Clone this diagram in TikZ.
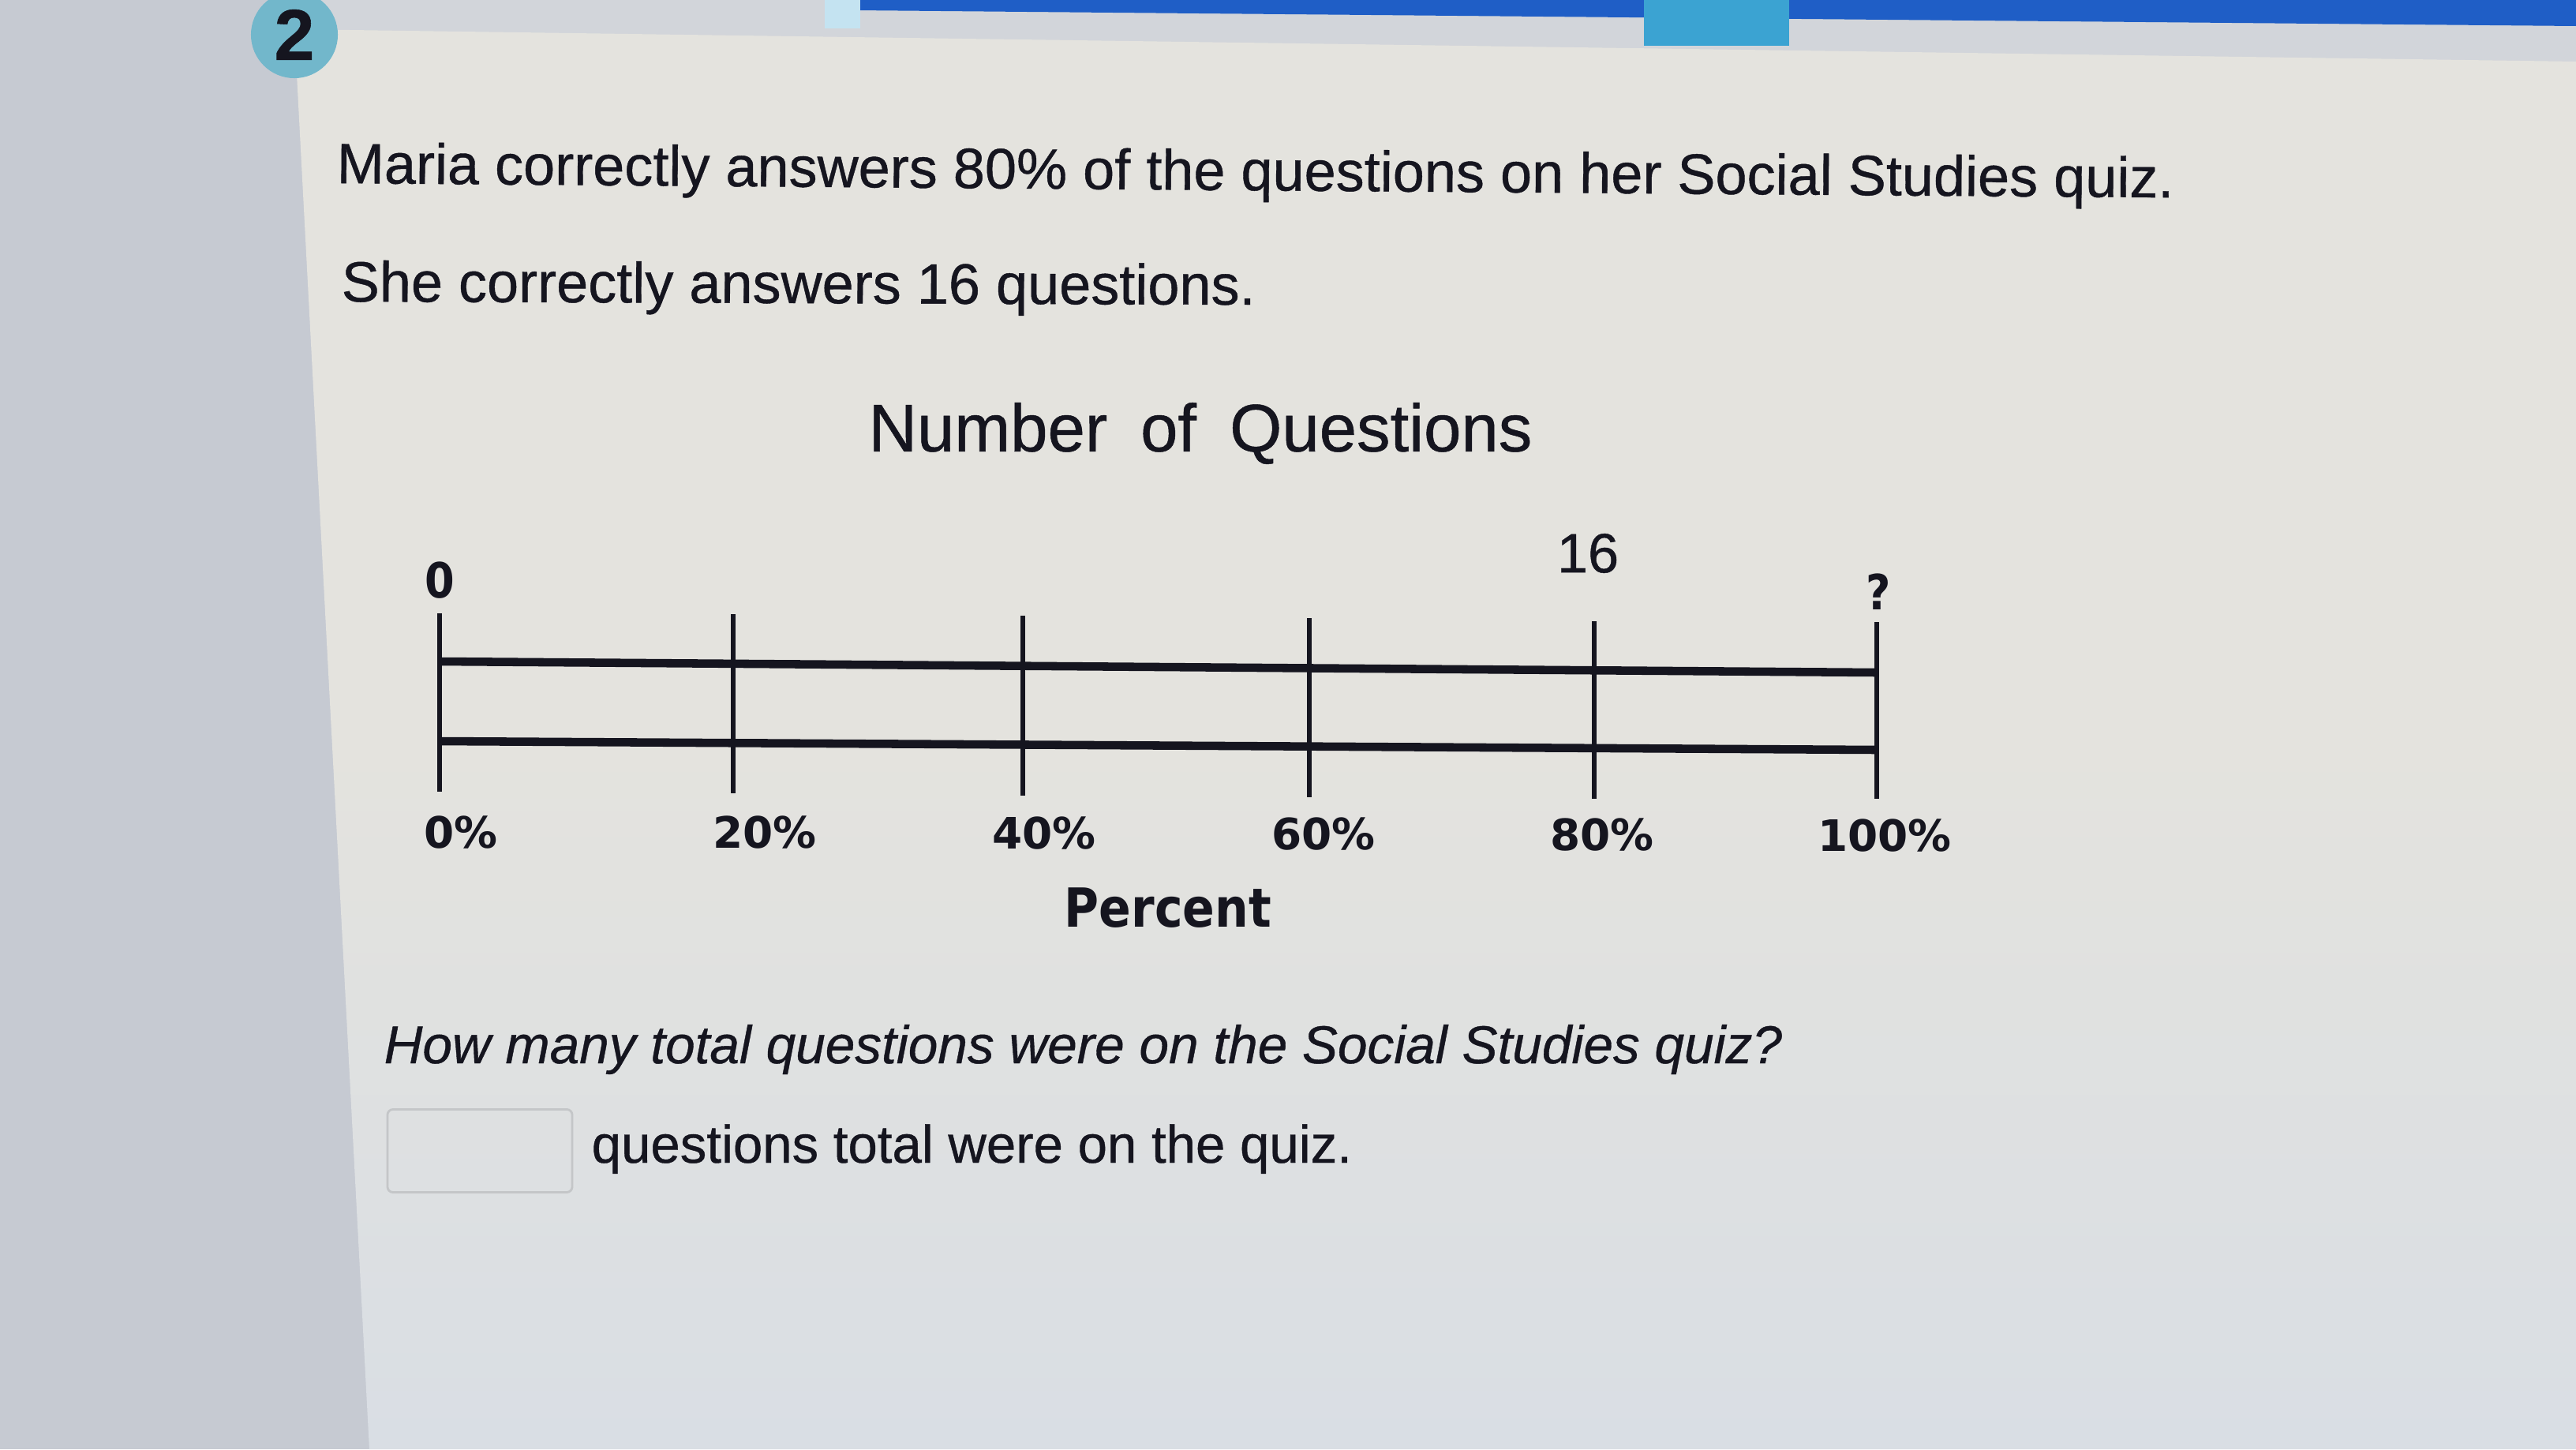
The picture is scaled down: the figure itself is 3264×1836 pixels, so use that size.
\documentclass[tikz,border=0pt]{standalone}
\usepackage{fontspec}
\setmainfont{Liberation Sans}[FakeBold=0.6]
\newfontfamily\vfont{DejaVu Sans}
\newfontfamily\vfontn[FakeStretch=0.88]{DejaVu Sans}
\definecolor{bgleft}{HTML}{C6CAD2}
\definecolor{paneltop}{HTML}{E4E3DE}
\definecolor{panelbot}{HTML}{D9DEE4}
\definecolor{headgrey}{HTML}{D2D5DA}
\definecolor{barblue}{HTML}{1F5EC6}
\definecolor{tabteal}{HTML}{3BA3D2}
\definecolor{circteal}{HTML}{72B7CB}
\definecolor{ink}{HTML}{15151F}
\definecolor{boxgrey}{HTML}{C4C6C8}
\tikzset{
  body/.style={anchor=base west, inner sep=0pt, text=ink, font=\fontsize{20.5pt}{24pt}\selectfont},
  ital/.style={anchor=base west, inner sep=0pt, text=ink, font=\fontsize{19.2pt}{23pt}\selectfont\itshape},
  pct/.style={inner sep=0pt, text=ink, font=\vfont\bfseries\fontsize{15.6pt}{18pt}\selectfont},
  endlab/.style={inner sep=0pt, text=ink, font=\vfontn\bfseries\fontsize{17.5pt}{20pt}\selectfont},
  tick/.style={line width=1.9pt, draw=ink},
  bar/.style={line width=3pt, draw=ink},
}
\begin{document}
\begin{tikzpicture}[x=0.01cm,y=-0.01cm]
\useasboundingbox (0,0) rectangle (3264,1836);
% backgrounds
\fill[bgleft] (0,0) rectangle (3264,1836);
\fill[headgrey] (373,0) -- (3264,0) -- (3264,80) -- (373,40) -- cycle;
\shade[top color=paneltop, bottom color=panelbot, middle color=paneltop]
  (373,37) -- (3264,78) -- (3264,1836) -- (468,1836) -- cycle;
\fill[barblue] (1083,0) -- (3264,0) -- (3264,33) -- (1083,13) -- cycle;
\fill[white!70!tabteal] (1045,0) rectangle (1090,36);
\fill[tabteal] (2083,0) rectangle (2267,58);
% question number
\node[circle, fill=circteal, minimum size=1.1cm, inner sep=0pt, text=ink,
      font=\bfseries\fontsize{26pt}{28pt}\selectfont] (qnum) at (373,44) {2};
% text
\node[body, rotate=-0.45] (l1) at (426,232) {Maria correctly answers 80\% of the questions on her Social Studies quiz.};
\node[body, rotate=-0.2] (l2) at (432,382) {She correctly answers 16 questions.};
\node[inner sep=0pt, text=ink, font=\fontsize{24.2pt}{28pt}\selectfont] (title) at (1521,549)
  {Number\hspace{0.42cm}of\hspace{0.42cm}Questions};
% ticks
\coordinate (t0a) at (557,777);  \coordinate (t0b) at (557,1003);
\coordinate (t1a) at (929,778);  \coordinate (t1b) at (929,1005);
\coordinate (t2a) at (1296,780); \coordinate (t2b) at (1296,1008);
\coordinate (t3a) at (1659,783); \coordinate (t3b) at (1659,1010);
\coordinate (t4a) at (2020,787); \coordinate (t4b) at (2020,1012);
\coordinate (t5a) at (2378,788); \coordinate (t5b) at (2378,1012);
\coordinate (ba1) at (557,838);  \coordinate (ba2) at (2378,852);
\coordinate (bb1) at (557,939);  \coordinate (bb2) at (2378,950);
\draw[bar] (ba1) -- (ba2);
\draw[bar] (bb1) -- (bb2);
\foreach \i in {0,...,5} { \draw[tick] (t\i a) -- (t\i b); }
% labels above
\node[endlab] (z) at (557,735) {0};
\node[inner sep=0pt, text=ink, font=\fontsize{20pt}{22pt}\selectfont] (sixteen) at (2012,701) {16};
\node[endlab] (q) at (2380,750) {?};
% percent labels
\node[pct] (p0) at (584,1055) {0\%};
\node[pct] (p1) at (969,1055) {20\%};
\node[pct] (p2) at (1323,1056) {40\%};
\node[pct] (p3) at (1677,1057) {60\%};
\node[pct] (p4) at (2030,1058) {80\%};
\node[pct] (p5) at (2388,1059) {100\%};
\node[inner sep=0pt, text=ink, font=\vfontn\bfseries\fontsize{19.4pt}{22pt}\selectfont] (perc) at (1480,1150) {Percent};
% question
\node[ital] (qq) at (486,1347) {How many total questions were on the Social Studies quiz?};
\node[draw=boxgrey, line width=0.8pt, rounded corners=2pt, minimum width=2.34cm, minimum height=1.05cm, inner sep=0pt] (ans) at (608,1458) {};
\node[anchor=base west, inner sep=0pt, text=ink, font=\fontsize{19.1pt}{23pt}\selectfont] (tail) at (749,1473) {questions total were on the quiz.};
\end{tikzpicture}
\end{document}
